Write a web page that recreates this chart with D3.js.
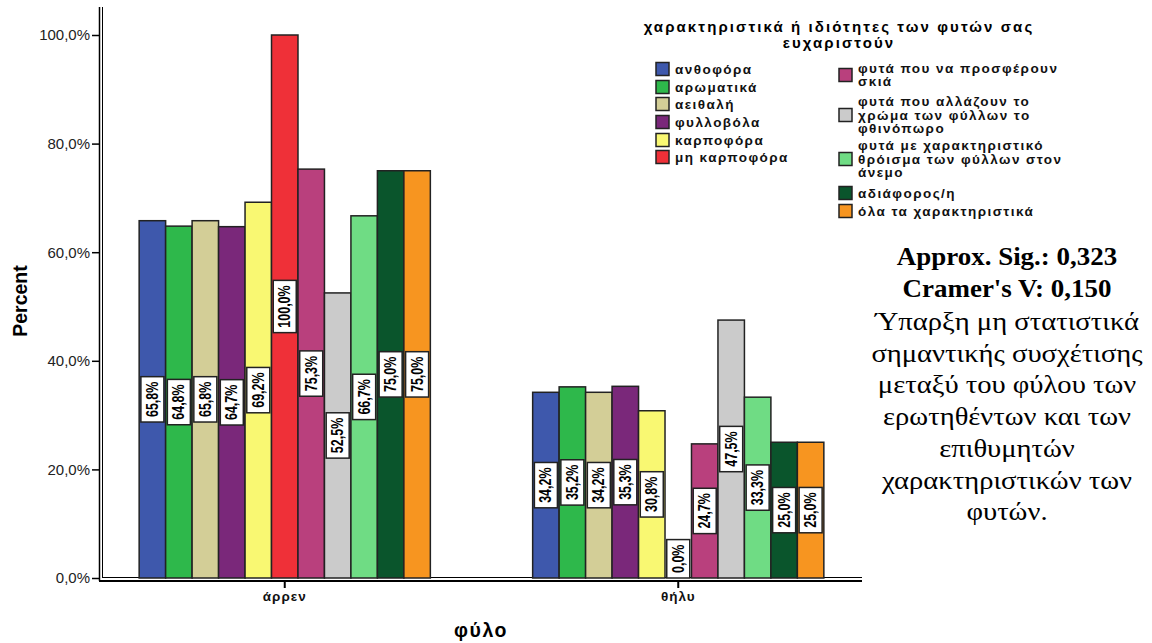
<!DOCTYPE html>
<html><head><meta charset="utf-8">
<script src="https://cdn.jsdelivr.net/npm/d3@7"></script>
<style>body{margin:0;background:#fff}svg{display:block}</style>
</head><body>
<svg id="c" width="1152" height="643"></svg>
<script>
const groups = ["άρρεν", "θήλυ"];
const seriesNames = [
  "ανθοφόρα", "αρωματικά", "αειθαλή", "φυλλοβόλα", "καρποφόρα", "μη καρποφόρα",
  "φυτά που να προσφέρουν σκιά",
  "φυτά που αλλάζουν το χρώμα των φύλλων το φθινόπωρο",
  "φυτά με χαρακτηριστικό θρόισμα των φύλλων στον άνεμο",
  "αδιάφορος/η", "όλα τα χαρακτηριστικά"
];
const legendLines = [
  ["ανθοφόρα"], ["αρωματικά"], ["αειθαλή"], ["φυλλοβόλα"], ["καρποφόρα"], ["μη καρποφόρα"],
  ["φυτά που να προσφέρουν", "σκιά"],
  ["φυτά που αλλάζουν το", "χρώμα των φύλλων το", "φθινόπωρο"],
  ["φυτά με χαρακτηριστικό", "θρόισμα των φύλλων στον", "άνεμο"],
  ["αδιάφορος/η"], ["όλα τα χαρακτηριστικά"]
];
const colors = ["#3e58ac","#2eb84b","#d3ce97","#7a287a","#f9f872","#ef3038","#b9407d","#cbcbcb","#6fdc84","#0a552c","#f79520"];
const maleValues   = [65.8, 64.8, 65.8, 64.7, 69.2, 100.0, 75.3, 52.5, 66.7, 75.0, 75.0];
const femaleValues = [34.2, 35.2, 34.2, 35.3, 30.8, 0.0, 24.7, 47.5, 33.3, 25.0, 25.0];
const yTicks = [0, 20, 40, 60, 80, 100];
const legendTitle = ["χαρακτηριστικά ή ιδιότητες των φυτών σας", "ευχαριστούν"];
const noteBold = ["Approx. Sig.: 0,323", "Cramer's V: 0,150"];
const noteLines = ["Ύπαρξη μη στατιστικά", "σημαντικής συσχέτισης", "μεταξύ του φύλου των",
  "ερωτηθέντων και των", "επιθυμητών", "χαρακτηριστικών των", "φυτών."];
const values = [maleValues, femaleValues];

const svg = d3.select("#c");
const sf = "Liberation Sans, Arial, sans-serif";
const y = d3.scaleLinear().domain([0, 100]).range([578, 35]);
const x0 = d3.scaleBand().domain(groups).range([88, 875]).paddingInner(0.26).paddingOuter(0.13);
const x1 = d3.scaleBand().domain(d3.range(seriesNames.length)).range([0, x0.bandwidth()]);

// axes lines (double)
const ax = svg.append("g").attr("stroke", "#000");
ax.append("line").attr("x1", 99.5).attr("x2", 99.5).attr("y1", 7).attr("y2", 581).attr("stroke-width", 1.5);
ax.append("line").attr("x1", 102.5).attr("x2", 102.5).attr("y1", 7).attr("y2", 578).attr("stroke-width", 1);
ax.append("line").attr("x1", 99).attr("x2", 862).attr("y1", 581).attr("y2", 581).attr("stroke-width", 2);
ax.append("line").attr("x1", 102).attr("x2", 862).attr("y1", 577.5).attr("y2", 577.5).attr("stroke-width", 1);

// y axis ticks
const yAxis = d3.axisLeft(y).tickValues(yTicks).tickSize(8).tickPadding(2)
  .tickFormat(d => d3.format(".1f")(d).replace(".", ",") + "%");
const yg = svg.append("g").attr("transform", "translate(100,0)").call(yAxis);
yg.select(".domain").remove();
yg.selectAll(".tick line").attr("stroke", "#000").attr("stroke-width", 1.5);
yg.selectAll(".tick text").attr("font-family", sf).attr("font-size", 15).attr("fill", "#222");

// x axis ticks
const xAxis = d3.axisBottom(x0).tickSize(7).tickPadding(3);
const xg = svg.append("g").attr("transform", "translate(0,581)").call(xAxis);
xg.select(".domain").remove();
xg.selectAll(".tick line").attr("stroke", "#000").attr("stroke-width", 2);
xg.selectAll(".tick text").attr("font-family", sf).attr("font-size", 13.5)
  .attr("font-weight", "bold").attr("letter-spacing", 1).attr("fill", "#111");

// bars
const gGroups = svg.append("g").selectAll("g").data(groups).join("g")
  .attr("transform", d => `translate(${x0(d)},0)`);
gGroups.each(function(g, gi) {
  d3.select(this).selectAll("rect").data(values[gi]).join("rect")
    .attr("x", (d, i) => x1(i))
    .attr("y", d => y(d))
    .attr("width", x1.bandwidth())
    .attr("height", d => y(0) - y(d))
    .attr("fill", (d, i) => colors[i])
    .attr("stroke", "#222").attr("stroke-width", 1.5);
});

// labels
const squeeze = 0.78;
gGroups.each(function(g, gi) {
  const sel = d3.select(this);
  values[gi].forEach((v, i) => {
    const cx = x1(i) + x1.bandwidth() / 2;
    const lg = sel.append("g");
    const t = lg.append("text")
      .attr("font-family", sf).attr("font-weight", "bold")
      .attr("font-size", 16).attr("text-anchor", "middle").attr("dominant-baseline", "central")
      .attr("transform", `scale(${squeeze},1)`)
      .attr("fill", "#000")
      .text(d3.format(".1f")(v).replace(".", ",") + "%");
    const len = t.node().getComputedTextLength() * squeeze;
    const h = len + 10, w = 23;
    let cy = (y(v) + y(0)) / 2;
    if (cy + h / 2 > y(0)) cy = y(0) - h / 2;
    lg.attr("transform", `translate(${cx},${cy}) rotate(-90)`);
    lg.insert("rect", "text").attr("x", -h / 2).attr("y", -w / 2).attr("width", h).attr("height", w)
      .attr("fill", "#fff").attr("stroke", "#222").attr("stroke-width", 1.5);
  });
});

// axis titles
svg.append("text").attr("transform", "translate(27,301) rotate(-90)").attr("text-anchor", "middle")
  .attr("font-family", sf).attr("font-weight", "bold").attr("font-size", 19.5)
  .text("Percent");
svg.append("text").attr("x", 481).attr("y", 637).attr("text-anchor", "middle")
  .attr("font-family", sf).attr("font-weight", "bold").attr("font-size", 19.5)
  .attr("letter-spacing", 1.5).text("φύλο");

// legend
legendTitle.forEach((l, i) => {
  svg.append("text").attr("x", 839).attr("y", 32 + i * 16).attr("text-anchor", "middle")
    .attr("font-family", sf).attr("font-weight", "bold").attr("font-size", 15).attr("letter-spacing", 2.1).text(l);
});
const col1Y = [69, 87, 104, 122, 140, 157];
const col2Y = [75, 115, 159, 193, 211];
legendLines.forEach((lines, i) => {
  const col2 = i >= 6;
  const cy = col2 ? col2Y[i - 6] : col1Y[i];
  const sx = col2 ? 839 : 656;
  svg.append("rect").attr("x", sx).attr("y", cy - 6.5).attr("width", 13).attr("height", 13)
    .attr("fill", colors[i]).attr("stroke", "#222").attr("stroke-width", 1.5);
  const lh = 13.8;
  lines.forEach((l, j) => {
    svg.append("text").attr("x", sx + 19).attr("y", cy + (j - (lines.length - 1) / 2) * lh)
      .attr("dominant-baseline", "central")
      .attr("font-family", sf).attr("font-weight", "bold").attr("font-size", 13.5).attr("letter-spacing", 1.45)
      .attr("fill", "#111").text(l);
  });
});

// note
const nf = "Liberation Serif, Times New Roman, serif";
noteBold.forEach((l, i) => {
  svg.append("text").attr("transform", `translate(1007,${265 + i * 31.5}) scale(1.1,1)`).attr("text-anchor", "middle")
    .attr("font-family", nf).attr("font-weight", "bold").attr("font-size", 24.5).text(l);
});
noteLines.forEach((l, i) => {
  svg.append("text").attr("transform", `translate(1007,${330 + i * 31.7}) scale(1.1,1)`).attr("text-anchor", "middle")
    .attr("font-family", nf).attr("font-size", 26).text(l);
});
</script>
</body></html>
